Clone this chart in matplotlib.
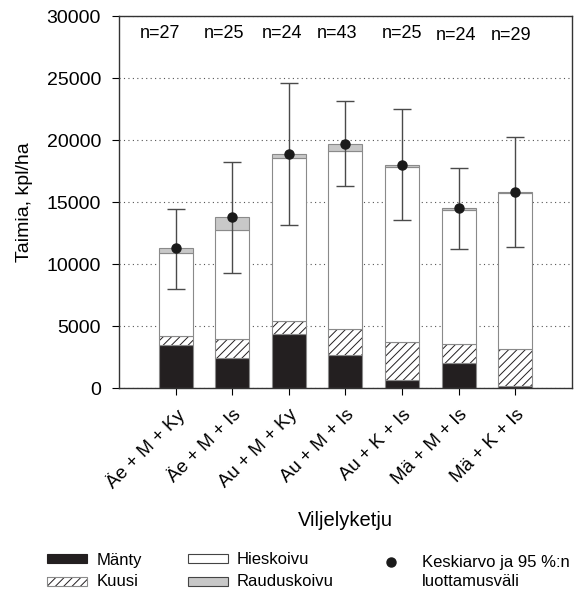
import numpy as np
import matplotlib.pyplot as plt
from matplotlib.patches import Rectangle
from matplotlib.lines import Line2D

plt.rcParams['font.family'] = ['Liberation Sans', 'DejaVu Sans']
plt.rcParams['hatch.linewidth'] = 0.7

# data
ketjut = ['Äe + M + Ky', 'Äe + M + Is', 'Au + M + Ky', 'Au + M + Is',
          'Au + K + Is', 'Mä + M + Is', 'Mä + K + Is']
n_obs = [27, 25, 24, 43, 25, 24, 29]
manty = [3490, 2470, 4380, 2660, 670, 2040, 190]
kuusi = [700, 1480, 1020, 2150, 3040, 1510, 2980]
hieskoivu = [6750, 8790, 13200, 14330, 14170, 10830, 12610]
rauduskoivu = [350, 1050, 300, 590, 130, 130, 50]
keskiarvo = [11290, 13790, 18920, 19730, 18010, 14515, 15830]
ci_ylä = [14490, 18280, 24650, 23140, 22500, 17800, 20240]
ci_ala = [8040, 9270, 13200, 16340, 13550, 11260, 11370]

x = np.arange(1, len(ketjut) + 1)
w = 0.6
edge = '#8a8a8a'

fig = plt.figure(figsize=(5.81, 5.89), dpi=100)
ax = fig.add_axes([0.205, 0.341, 0.779, 0.631])

b1 = np.array(manty)
b2 = b1 + np.array(kuusi)
b3 = b2 + np.array(hieskoivu)

ax.bar(x, manty, w, color='#231f20', edgecolor=edge, linewidth=0.8, zorder=2)
# hatch drawn in black, outline separately in gray
ax.bar(x, kuusi, w, bottom=b1, color='white', edgecolor='#231f20', linewidth=0,
       hatch='////', zorder=2)
ax.bar(x, kuusi, w, bottom=b1, fill=False, edgecolor=edge, linewidth=0.8, zorder=2)
ax.bar(x, hieskoivu, w, bottom=b2, color='white', edgecolor=edge, linewidth=0.8, zorder=2)
ax.bar(x, rauduskoivu, w, bottom=b3, color='#c8c8c8', edgecolor=edge, linewidth=0.8, zorder=2)

yerr = [np.array(keskiarvo) - np.array(ci_ala), np.array(ci_ylä) - np.array(keskiarvo)]
ax.errorbar(x, keskiarvo, yerr=yerr, fmt='o', color='#1a1a1a', ecolor='#4a4a4a',
            elinewidth=1.0, capsize=6.5, capthick=1.0, markersize=6.5, zorder=4)

# n labels
n_dx = [-0.27, -0.14, -0.12, -0.14, 0.0, -0.04, -0.07]
n_y = [28600, 28650, 28600, 28600, 28600, 28450, 28500]
for xi, dx, yy, n in zip(x, n_dx, n_y, n_obs):
    ax.text(xi + dx, yy, f'n={n}', ha='center', va='center', fontsize=13)

ax.set_xlim(0, 8)
ax.set_ylim(0, 30000)
ax.set_yticks(np.arange(0, 30001, 5000))
ax.set_xticks(x)
ax.set_xticklabels(ketjut, rotation=45, ha='right', rotation_mode='anchor', fontsize=13.5)
ax.tick_params(axis='y', labelsize=14, length=5, direction='out', pad=8)
ax.tick_params(axis='x', length=5, direction='out', pad=8)
ax.yaxis.grid(True, linestyle=(0, (1, 3)), color='#555555', linewidth=0.8, zorder=0)
ax.set_axisbelow(True)
ax.set_ylabel('Taimia, kpl/ha', fontsize=14)
ax.set_xlabel('Viljelyketju', fontsize=14.5, labelpad=13)
ax.yaxis.set_label_coords(-0.19, 0.5)
for s in ax.spines.values():
    s.set_linewidth(1.0)
    s.set_color('#333333')

# legend drawn in figure pixels
W, H = 581, 589
def rect(px, py, **kw):
    fig.patches.append(Rectangle((px / W, 1 - (py + 9) / H), 40 / W, 9 / H,
                                 transform=fig.transFigure, figure=fig, **kw))

rect(47, 554, facecolor='#231f20', edgecolor='#231f20', linewidth=0.8)
rect(47, 577, facecolor='white', edgecolor='#231f20', linewidth=0, hatch='////')
rect(47, 577, fill=False, edgecolor=edge, linewidth=0.8)
rect(188, 554, facecolor='white', edgecolor='#444444', linewidth=0.8)
rect(188, 577, facecolor='#c8c8c8', edgecolor='#444444', linewidth=0.8)
fig.lines.append(Line2D([391 / W], [1 - 562 / H], marker='o', color='#1a1a1a',
                        markersize=6.5, transform=fig.transFigure, figure=fig))

for tx, ty, t in [(97, 561, 'Mänty'), (97, 582, 'Kuusi'),
                  (237, 559, 'Hieskoivu'), (237, 581, 'Rauduskoivu'),
                  (422, 562, 'Keskiarvo ja 95 %:n'), (422, 582, 'luottamusväli')]:
    fig.text(tx / W, 1 - ty / H, t, ha='left', va='center', fontsize=12)

fig.savefig('out.png', dpi=100)
